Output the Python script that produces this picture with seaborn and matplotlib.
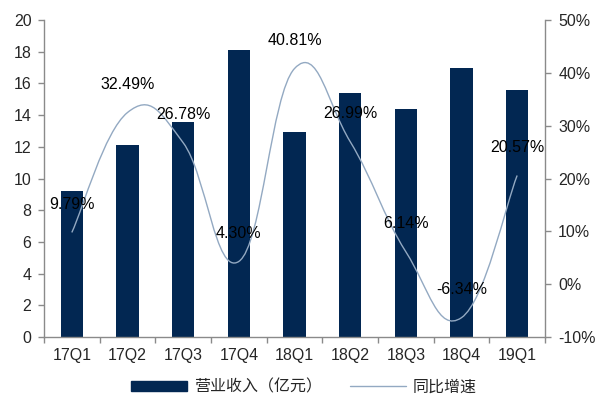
import numpy as np
import pandas as pd
import matplotlib
matplotlib.use("Agg")
import matplotlib.pyplot as plt
from matplotlib.path import Path
from matplotlib.patches import PathPatch, Patch
from matplotlib.lines import Line2D
from matplotlib.ticker import FuncFormatter, MultipleLocator
import seaborn as sns

# Quarterly revenue (100 million CNY) and year-on-year growth (%)
quarters = ["17Q1", "17Q2", "17Q3", "17Q4", "18Q1", "18Q2", "18Q3", "18Q4", "19Q1"]
revenue = [9.2, 12.1, 13.55, 18.1, 12.93, 15.4, 14.38, 16.95, 15.6]
growth = [9.79, 32.49, 26.78, 4.30, 40.81, 26.99, 6.14, -6.34, 20.57]

bar_label = "营业收入（亿元）"
line_label = "同比增速"

sns.set_style("ticks")
plt.rcParams["font.family"] = ["Liberation Sans", "Noto Sans CJK SC", "DejaVu Sans"]

bar_color = "#022752"
line_color = "#93A9C2"
spine_color = "#8A8A8A"
fs = 11.5

fig = plt.figure(figsize=(5.96, 4.05), dpi=100)
ax = fig.add_axes([0.0738, 0.1679, 0.9144 - 0.0738, 0.9506 - 0.1679])

df = pd.DataFrame({"quarter": quarters, "revenue": revenue})
sns.barplot(data=df, x="quarter", y="revenue", color=bar_color, width=0.4,
            saturation=1, ax=ax, edgecolor=bar_color, linewidth=0)

ax.set_xlim(-0.5, len(quarters) - 0.5)
ax.set_ylim(0, 20)
ax.yaxis.set_major_locator(MultipleLocator(2))
ax.set_xlabel("")
ax.set_ylabel("")

# category labels at bar centres, tick marks at category boundaries
ax.set_xticks(range(len(quarters)))
ax.set_xticklabels(quarters, fontsize=fs)
ax.set_xticks(np.arange(-0.5, len(quarters)), minor=True)
ax.tick_params(axis="x", which="major", length=0, pad=8)
ax.tick_params(axis="x", which="minor", length=4, width=1, color=spine_color, direction="out")
ax.tick_params(axis="y", length=4, width=1, color=spine_color, labelsize=fs, pad=5)

for side in ["top", "right"]:
    ax.spines[side].set_visible(False)
for side in ["left", "bottom"]:
    ax.spines[side].set_color(spine_color)
    ax.spines[side].set_linewidth(1.0)

# growth rate on the secondary axis
ax2 = ax.twinx()
ax2.set_ylim(-10, 50)
ax2.yaxis.set_major_locator(MultipleLocator(10))
ax2.yaxis.set_major_formatter(FuncFormatter(lambda v, p: f"{v:.0f}%"))
ax2.tick_params(axis="y", length=4, width=1, color=spine_color, labelsize=fs, pad=5.5)
for side in ["top", "left", "bottom"]:
    ax2.spines[side].set_visible(False)
ax2.spines["right"].set_color(spine_color)
ax2.spines["right"].set_linewidth(1.0)

# smoothed growth curve: cubic Bezier segments through each data point
xs = np.arange(len(growth), dtype=float)
ys = np.asarray(growth, dtype=float)
k = 0.21
verts = [(xs[0], ys[0])]
codes = [Path.MOVETO]
n = len(xs)
for i in range(n - 1):
    p0 = i - 1 if i > 0 else i
    p3 = i + 2 if i + 2 < n else i + 1
    c1 = (xs[i] + k * (xs[i + 1] - xs[p0]), ys[i] + k * (ys[i + 1] - ys[p0]))
    c2 = (xs[i + 1] - k * (xs[p3] - xs[i]), ys[i + 1] - k * (ys[p3] - ys[i]))
    verts += [c1, c2, (xs[i + 1], ys[i + 1])]
    codes += [Path.CURVE4] * 3
curve = PathPatch(Path(verts, codes), facecolor="none", edgecolor=line_color,
                  linewidth=1.0, transform=ax2.transData)
ax2.add_patch(curve)

for i, v in enumerate(growth):
    ax2.annotate(f"{v:.2f}%", (i, v), xytext=(0, 20), textcoords="offset points",
                 ha="center", va="center", fontsize=fs, color="black")

handles = [Patch(facecolor=bar_color, edgecolor=bar_color),
           Line2D([], [], color=line_color, linewidth=1.0)]
fig.legend(handles, [bar_label, line_label], loc="lower center",
           bbox_to_anchor=(0.51, -0.01), ncol=2, frameon=False, fontsize=fs,
           handlelength=3.5, handleheight=0.55, columnspacing=1.8, handletextpad=0.4)

fig.savefig("out.png", dpi=100)
